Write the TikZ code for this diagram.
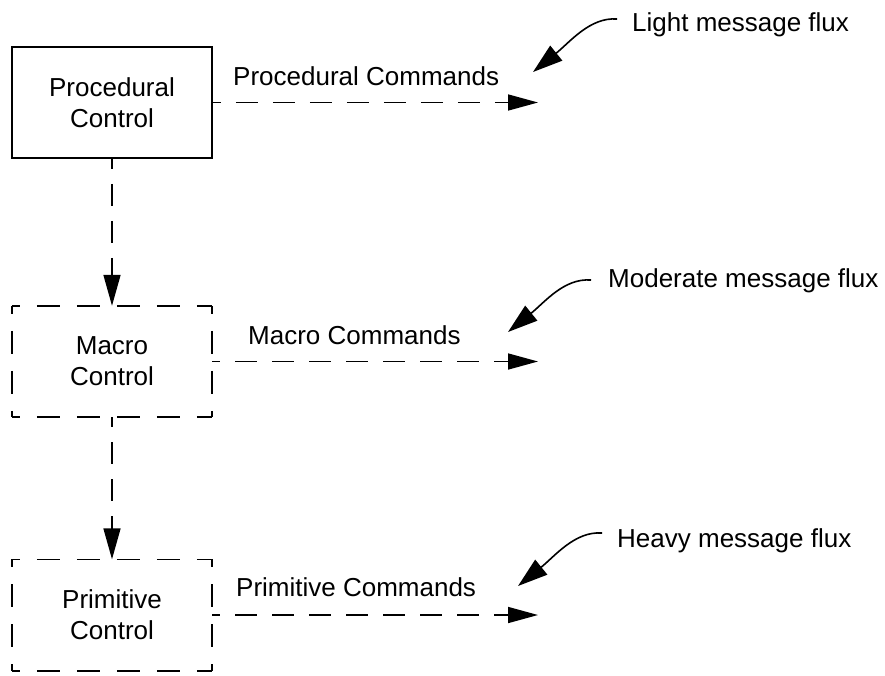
\documentclass[tikz,border=0pt]{standalone}
\usepackage{fontspec}
\setmainfont{Liberation Sans}
\usetikzlibrary{arrows.meta,calc}
\begin{document}
\begin{tikzpicture}[x=1pt,y=-1pt,
  txt/.style={font=\fontsize{26}{31}\selectfont, inner sep=0pt},
  ctlbox/.style={txt, align=center, minimum width=200pt, minimum height=111pt},
  solidbox/.style={ctlbox, draw, line width=1.6pt},
  boxdash/.style={line width=1.6pt, dash pattern=on 23pt off 17pt, dash phase=15pt},
  flow/.style={line width=1.6pt, dash pattern=on 22pt off 15pt, dash phase=14pt,
    -{Triangle[length=30pt,width=16pt]}},
  down/.style={line width=1.6pt, dash pattern=on 22pt off 15pt, dash phase=12pt,
    -{Triangle[length=31pt,width=17pt]}},
  flux/.style={line width=1.6pt, -{Triangle[length=30pt,width=19pt]}},
  lbl/.style={txt, anchor=base west}
]
\useasboundingbox (0,0) rectangle (885,675);

% boxes
\node[solidbox] (proc) at (112,102.5) {Procedural\\Control};
\node[ctlbox] (macro) at (112,361.5) {Macro\\Control};
\node[ctlbox] (prim) at (112,615) {Primitive\\Control};

\foreach \b in {macro,prim}{
  \draw[boxdash] (\b.north west) -- (\b.north east);
  \draw[boxdash] (\b.south west) -- (\b.south east);
  \draw[boxdash] (\b.north west) -- (\b.south west);
  \draw[boxdash] (\b.north east) -- (\b.south east);
}

% ends of the command arrows
\coordinate (pe) at (538,102.5);
\coordinate (me) at (538,361.5);
\coordinate (re) at (538,615);

\draw[flow] (proc.east) -- (pe);
\draw[flow] (macro.east) -- (me);
\draw[flow] (prim.east) -- (re);

\draw[down] (proc.south) -- (macro.north);
\draw[down] (macro.south) -- (prim.north);

% command labels
\node[lbl] (pl) at (233,85) {Procedural Commands};
\node[lbl] (ml) at (248,344) {Macro Commands};
\node[lbl] (rl) at (236,596) {Primitive Commands};

% flux labels
\node[lbl] (lf) at (632,31) {Light message flux};
\node[lbl] (mf) at (608,287) {Moderate message flux};
\node[lbl] (hf) at (617,547) {Heavy message flux};

% flux pointers
\coordinate (ls) at (617,19);
\coordinate (lt) at (533,72);
\coordinate (ms) at (591,280);
\coordinate (mt) at (508,332);
\coordinate (hs) at (602,533);
\coordinate (ht) at (518,586);

\draw[flux] (ls) .. controls ($(ls)+(-27,-2)$) and ($(lt)+(37,-30)$) .. (lt);
\draw[flux] (ms) .. controls ($(ms)+(-27,-2)$) and ($(mt)+(37,-30)$) .. (mt);
\draw[flux] (hs) .. controls ($(hs)+(-27,-2)$) and ($(ht)+(37,-30)$) .. (ht);
\end{tikzpicture}
\end{document}
